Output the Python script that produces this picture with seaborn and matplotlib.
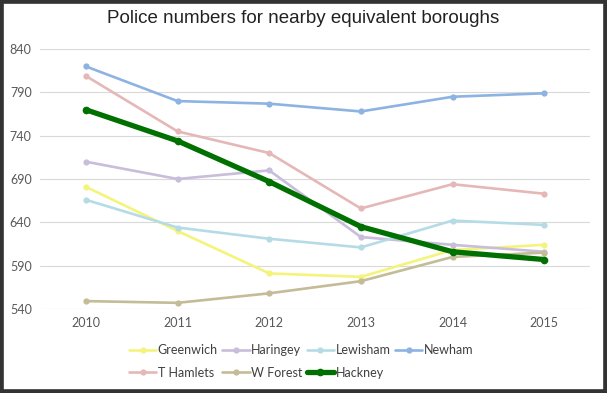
import pandas as pd
import seaborn as sns
import matplotlib.pyplot as plt
from matplotlib.patches import Rectangle

years = [2010, 2011, 2012, 2013, 2014, 2015]

boroughs = ['Greenwich', 'Haringey', 'Lewisham', 'Newham', 'T Hamlets', 'W Forest', 'Hackney']
greenwich = [681, 630, 581, 577, 608, 614]
haringey = [710, 690, 700, 623, 614, 606]
lewisham = [666, 634, 621, 611, 642, 637]
newham = [820, 780, 777, 768, 785, 789]
t_hamlets = [809, 745, 720, 656, 684, 673]
w_forest = [549, 547, 558, 572, 600, 605]
hackney = [770, 734, 687, 635, 606, 597]

colors = ['#F4F47C', '#C8BEDB', '#B5DCE6', '#8DB3E2', '#E5B8B7', '#C4BC96', '#007000']
y_ticks = [540, 590, 640, 690, 740, 790, 840]

series = [greenwich, haringey, lewisham, newham, t_hamlets, w_forest, hackney]
df = pd.DataFrame({
    'year': years * len(boroughs),
    'borough': [b for b in boroughs for _ in years],
    'officers': [v for s in series for v in s],
})

sns.set_style('white')
plt.rcParams['font.family'] = ['Lato', 'DejaVu Sans']

fig = plt.figure(figsize=(6.07, 3.93), dpi=100)
ax = fig.add_axes([0.066, 0.214, 0.906, 0.661])

for name, col in zip(boroughs, colors):
    thick = name == 'Hackney'
    sns.lineplot(data=df[df['borough'] == name], x='year', y='officers',
                 color=col, marker='o', markersize=5.5 if thick else 4.5,
                 markeredgewidth=0, linewidth=3.8 if thick else 1.9,
                 label=name, ax=ax, legend=False)

ax.set_xlim(2009.5, 2015.5)
ax.set_ylim(540, 840)
ax.set_xticks(years)
ax.set_yticks(y_ticks)
ax.tick_params(length=0, labelsize=9, labelcolor='#595959', pad=6)
ax.set_xlabel('')
ax.set_ylabel('')
ax.yaxis.grid(True, color='#D9D9D9', linewidth=0.8)
for s in ax.spines.values():
    s.set_visible(False)

fig.suptitle('Police numbers for nearby equivalent boroughs', y=0.975,
             fontsize=13.5, color='#222222', family='Liberation Sans')

# legend fills column by column, so reorder to read row by row
handles, labels = ax.get_legend_handles_labels()
order = [0, 4, 1, 5, 2, 6, 3]
fig.legend([handles[i] for i in order], [labels[i] for i in order], ncol=4,
           loc='center', bbox_to_anchor=(0.496, 0.08), frameon=False,
           fontsize=9, labelcolor='#404040', handlelength=2.2,
           handletextpad=0.1, columnspacing=0.35, labelspacing=0.85)

fig.patches.append(Rectangle((0, 0), 1, 1, transform=fig.transFigure, fill=False,
                             edgecolor='#333333', linewidth=5.5, zorder=10))

fig.savefig('out.png', dpi=100, facecolor='white')
